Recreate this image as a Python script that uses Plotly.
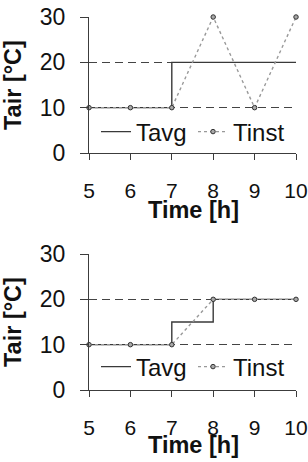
import plotly.graph_objects as go

hours = [5, 6, 7, 8, 9, 10]
tinst_top = [10, 10, 10, 30, 10, 30]
tavg_top = [10, 10, 10, 20, 20, 20]
tinst_bot = [10, 10, 10, 20, 20, 20]
tavg_bot = [10, 10, 10, 15, 20, 20]
y_ticks = [0, 10, 20, 30]
x_ticks = [5, 6, 7, 8, 9, 10]

W, H = 308, 462
FONT = "Liberation Sans, Arial, sans-serif"
AVG_COLOR = "#3a3a3a"
INST_COLOR = "#999999"
AX_COLOR = "#3c3c3c"

fig = go.Figure()

def add_panel(xa, ya, tavg, tinst, legend):
    fig.add_trace(go.Scatter(x=hours, y=tavg, mode="lines", name="Tavg",
                             line=dict(color=AVG_COLOR, width=1.4, shape="vh"),
                             xaxis=xa, yaxis=ya, legend=legend, cliponaxis=False))
    fig.add_trace(go.Scatter(x=hours, y=tinst, mode="lines+markers", name="Tinst",
                             line=dict(color=INST_COLOR, width=1.4, dash="dot"),
                             marker=dict(symbol="circle", size=4.5, color="#a8a8a8",
                                         line=dict(color="#333333", width=1)),
                             xaxis=xa, yaxis=ya, legend=legend, cliponaxis=False))

add_panel("x", "y", tavg_top, tinst_top, "legend")
add_panel("x2", "y2", tavg_bot, tinst_bot, "legend2")

def px_x(p):
    return p / W

def px_y(p):
    return 1 - p / H

xdom = [px_x(89), px_x(296)]
xcommon = dict(range=[5, 10], tickvals=x_ticks, showgrid=False, zeroline=False,
               showline=True, linecolor=AX_COLOR, linewidth=1.2, automargin=False,
               ticks="outside", ticklen=6, tickcolor=AX_COLOR, tickwidth=1,
               ticklabelstandoff=13,
               tickfont=dict(family=FONT, size=21, color="#111111"))
ycommon = dict(range=[0, 30], tickvals=y_ticks, showgrid=True, gridcolor="#444444",
               gridwidth=1, griddash="8px,5px", zeroline=False, automargin=False,
               showline=True, linecolor=AX_COLOR, linewidth=1.2,
               ticks="outside", ticklen=8, tickcolor=AX_COLOR, tickwidth=1,
               ticklabelstandoff=10,
               tickfont=dict(family=FONT, size=23, color="#111111"))

legend_common = dict(orientation="h", xanchor="left", yanchor="middle",
                     bgcolor="rgba(0,0,0,0)", entrywidth=52, entrywidthmode="pixels",
                     itemwidth=30, tracegroupgap=0,
                     font=dict(family=FONT, size=24, color="#111111"))

fig.update_layout(
    width=W, height=H, margin=dict(l=0, r=0, t=0, b=0, pad=0, autoexpand=False),
    paper_bgcolor="white", plot_bgcolor="white",
    xaxis=dict(domain=xdom, anchor="y", **xcommon),
    yaxis=dict(domain=[px_y(153), px_y(17)], anchor="x", **ycommon),
    xaxis2=dict(domain=xdom, anchor="y2", **xcommon),
    yaxis2=dict(domain=[px_y(390), px_y(254)], anchor="x2", **ycommon),
    legend=dict(x=px_x(96), y=px_y(132), **legend_common),
    legend2=dict(x=px_x(96), y=px_y(367), **legend_common),
    showlegend=True,
)

title_font = dict(family=FONT, size=23.5, color="#111111", weight="bold")
for yc_x, yc_y in [(210, 85), (445, 322)]:
    fig.add_annotation(text="Time [h]", xref="paper", yref="paper",
                       x=px_x(193), y=px_y(yc_x), xanchor="center", yanchor="middle",
                       showarrow=False, font=title_font)
    fig.add_annotation(text="Tair [°C]", xref="paper", yref="paper",
                       x=px_x(13), y=px_y(yc_y), xanchor="center", yanchor="middle",
                       textangle=-90, showarrow=False, font=title_font)

fig.write_html("out.html")
